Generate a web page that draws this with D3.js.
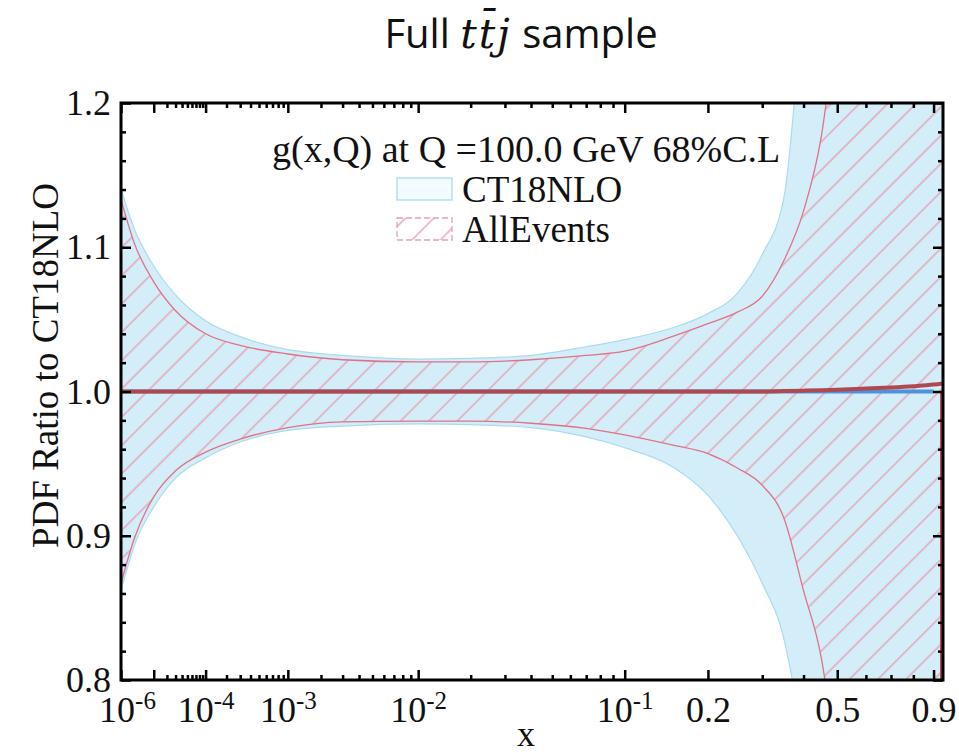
<!DOCTYPE html>
<html>
<head>
<meta charset="utf-8">
<script src="https://cdn.jsdelivr.net/npm/d3@7"></script>
<style>
    body { margin: 0; background: #fff; }
    svg text { font-family: "Liberation Serif", "Times New Roman", serif; fill: #111; }
</style>
</head>
<body>
<div id="container"></div>
<script>

// x grid of the gluon ratio curves
const xValues = [1e-6, 3e-6, 1e-5, 3e-5, 1e-4, 3e-4, 1e-3, 3e-3, 0.01, 0.02, 0.04, 0.07,
    0.1, 0.15, 0.2, 0.25, 0.3, 0.35, 0.4, 0.45, 0.5, 0.6, 0.7, 0.8, 0.9, 0.95];

// CT18NLO 68% C.L. band (ratio to its own central value)
const ct18Upper = [1.140, 1.112, 1.087, 1.067, 1.049, 1.038, 1.029, 1.025, 1.0225, 1.023, 1.025, 1.031,
    1.036, 1.044, 1.054, 1.068, 1.095, 1.135, 1.28, 1.45, 1.60, 1.9, 2.3, 2.8, 3.5, 4.0];
const ct18Lower = [0.862, 0.894, 0.920, 0.940, 0.954, 0.965, 0.973, 0.976, 0.9775, 0.977, 0.975, 0.9685,
    0.961, 0.948, 0.928, 0.900, 0.867, 0.828, 0.75, 0.64, 0.54, 0.38, 0.25, 0.15, 0.08, 0.05];
const ct18Central = [1, 1, 1, 1, 1, 1, 1, 1, 1, 1, 1, 1,
    1, 1, 1, 1, 1, 1, 1, 1, 1, 1, 1, 1, 1, null];

// AllEvents band
const allUpper = [1.133, 1.102, 1.076, 1.056, 1.040, 1.032, 1.026, 1.022, 1.0205, 1.0205, 1.022, 1.025,
    1.028, 1.038, 1.047, 1.055, 1.066, 1.091, 1.125, 1.176, 1.26, 1.4, 1.6, 1.8, 2.0, 2.2];
const allLower = [0.867, 0.899, 0.927, 0.945, 0.958, 0.967, 0.975, 0.979, 0.9795, 0.9795, 0.978, 0.9745,
    0.970, 0.963, 0.957, 0.947, 0.935, 0.912, 0.862, 0.816, 0.74, 0.6, 0.5, 0.4, 0.3, 0.2];
const allCentral = [1, 1, 1, 1, 1, 1, 1, 1, 1, 1, 1, 1,
    1, 1, 1, 1, 1, 1.0003, 1.0006, 1.0009, 1.0012, 1.002, 1.0028, 1.0037, 1.0048, 1.0056];

// axis ticks
const xMajorTicks = [1e-6, 1e-5, 1e-4, 1e-3, 1e-2, 0.1, 0.2, 0.5, 0.9];
const xMajorLabels = [['10', '-6'], null, ['10', '-4'], ['10', '-3'], ['10', '-2'], ['10', '-1'], ['0.2'], ['0.5'], ['0.9']];
const xMinorTicks = [2e-5, 3e-5, 4e-5, 5e-5, 6e-5, 7e-5, 8e-5, 9e-5,
    2e-4, 3e-4, 4e-4, 5e-4, 6e-4, 7e-4, 8e-4, 9e-4,
    2e-3, 3e-3, 4e-3, 5e-3, 6e-3, 7e-3, 8e-3, 9e-3,
    0.02, 0.03, 0.04, 0.05, 0.06, 0.07, 0.08, 0.09,
    0.3, 0.4, 0.6, 0.7, 0.8];
const yMajorTicks = [0.8, 0.9, 1.0, 1.1, 1.2];
const yMinorTicks = [0.82, 0.84, 0.86, 0.88, 0.92, 0.94, 0.96, 0.98, 1.02, 1.04, 1.06, 1.08, 1.12, 1.14, 1.16, 1.18];

const serif = '"Liberation Serif", "Times New Roman", serif';

window.addEventListener('DOMContentLoaded', (event) => {

    const width = 959;
    const height = 753;
    const left = 121, right = 943, top = 103, bottom = 680;

    const svg = d3.select('#container')
        .append('svg')
        .attr('width', width)
        .attr('height', height);

    const x = d3.scalePow()
        .exponent(0.2)
        .domain([1e-6, 0.95])
        .range([left, right]);

    const y = d3.scaleLinear()
        .domain([0.8, 1.2])
        .range([bottom, top]);

    const defs = svg.append('defs');

    defs.append('clipPath')
        .attr('id', 'plot-clip')
        .append('rect')
        .attr('x', left)
        .attr('y', top)
        .attr('width', right - left)
        .attr('height', bottom - top);

    const hatch = defs.append('pattern')
        .attr('id', 'hatch')
        .attr('patternUnits', 'userSpaceOnUse')
        .attr('width', 20)
        .attr('height', 20)
        .attr('patternTransform', 'rotate(45)');

    hatch.append('line')
        .attr('x1', 1).attr('y1', 0)
        .attr('x2', 1).attr('y2', 20)
        .attr('stroke', '#e6a0b2')
        .attr('stroke-width', 1.4);

    const rows = xValues.map((xv, i) => ({
        x: xv,
        ctUp: ct18Upper[i], ctLo: ct18Lower[i], ctMid: ct18Central[i],
        allUp: allUpper[i], allLo: allLower[i], allMid: allCentral[i]
    }));

    const plot = svg.append('g')
        .attr('clip-path', 'url(#plot-clip)');

    // CT18NLO band
    const ctArea = d3.area()
        .x(d => x(d.x))
        .y0(d => y(d.ctLo))
        .y1(d => y(d.ctUp))
        .curve(d3.curveMonotoneX);

    plot.append('path')
        .datum(rows)
        .attr('d', ctArea)
        .attr('fill', '#d4eef9')
        .attr('stroke', 'none');

    ['ctUp', 'ctLo'].forEach(key => {
        plot.append('path')
            .datum(rows)
            .attr('d', d3.line().x(d => x(d.x)).y(d => y(d[key])).curve(d3.curveMonotoneX))
            .attr('fill', 'none')
            .attr('stroke', '#a9dbf0')
            .attr('stroke-width', 1.2);
    });

    // AllEvents band (hatched)
    const allArea = d3.area()
        .x(d => x(d.x))
        .y0(d => y(d.allLo))
        .y1(d => y(d.allUp))
        .curve(d3.curveMonotoneX);

    plot.append('path')
        .datum(rows)
        .attr('d', allArea)
        .attr('fill', 'url(#hatch)')
        .attr('stroke', 'none');

    ['allUp', 'allLo'].forEach(key => {
        plot.append('path')
            .datum(rows)
            .attr('d', d3.line().x(d => x(d.x)).y(d => y(d[key])).curve(d3.curveMonotoneX))
            .attr('fill', 'none')
            .attr('stroke', '#df7288')
            .attr('stroke-width', 1.3);
    });

    const last = rows[rows.length - 1];
    plot.append('line')
        .attr('x1', x(last.x) - 1.5)
        .attr('x2', x(last.x) - 1.5)
        .attr('y1', y(1.0))
        .attr('y2', y(0.8))
        .attr('stroke', '#b9474f')
        .attr('stroke-width', 3);

    // central values
    plot.append('path')
        .datum(rows.filter(d => d.ctMid != null))
        .attr('d', d3.line().x(d => x(d.x)).y(d => y(d.ctMid)))
        .attr('fill', 'none')
        .attr('stroke', '#4f92dc')
        .attr('stroke-width', 4);

    plot.append('path')
        .datum(rows)
        .attr('d', d3.line().x(d => x(d.x)).y(d => y(d.allMid)).curve(d3.curveMonotoneX))
        .attr('fill', 'none')
        .attr('stroke', '#b0494f')
        .attr('stroke-width', 4);

    // Axes, ticks pointing inward on all four sides.

    const tickStyle = (g) => {
        g.select('.domain').remove();
        g.selectAll('.tick line').attr('stroke', '#000').attr('stroke-width', 2.5);
    };

    const xBottom = svg.append('g')
        .attr('transform', `translate(0,${bottom})`)
        .call(d3.axisBottom(x).tickValues(xMajorTicks).tickSizeInner(-10).tickSizeOuter(0).tickFormat(() => ''))
        .call(tickStyle);

    svg.append('g')
        .attr('transform', `translate(0,${bottom})`)
        .call(d3.axisBottom(x).tickValues(xMinorTicks).tickSizeInner(-5).tickSizeOuter(0).tickFormat(() => ''))
        .call(tickStyle);

    svg.append('g')
        .attr('transform', `translate(0,${top})`)
        .call(d3.axisTop(x).tickValues(xMajorTicks).tickSizeInner(-10).tickSizeOuter(0).tickFormat(() => ''))
        .call(tickStyle);

    svg.append('g')
        .attr('transform', `translate(0,${top})`)
        .call(d3.axisTop(x).tickValues(xMinorTicks).tickSizeInner(-5).tickSizeOuter(0).tickFormat(() => ''))
        .call(tickStyle);

    xBottom.selectAll('.tick text').remove();
    xBottom.selectAll('.tick').each(function (d, i) {
        const parts = xMajorLabels[i];
        if (!parts) return;
        const t = d3.select(this).append('text')
            .attr('x', i === 0 ? 6 : 0)
            .attr('y', 42)
            .attr('text-anchor', 'middle')
            .attr('font-family', serif)
            .attr('font-size', 36);
        t.append('tspan').text(parts[0]);
        if (parts[1]) {
            t.append('tspan')
                .attr('dy', -13)
                .attr('font-size', 25)
                .text(parts[1]);
        }
    });

    svg.append('g')
        .attr('transform', `translate(${left},0)`)
        .call(d3.axisLeft(y).tickValues(yMajorTicks).tickSizeInner(-10).tickSizeOuter(0).tickPadding(10).tickFormat(d3.format('.1f')))
        .call(tickStyle)
        .call(g => g.selectAll('.tick text')
            .attr('font-size', 36)
            .attr('font-family', serif)
            .attr('fill', '#111'));

    svg.append('g')
        .attr('transform', `translate(${left},0)`)
        .call(d3.axisLeft(y).tickValues(yMinorTicks).tickSizeInner(-5).tickSizeOuter(0).tickFormat(() => ''))
        .call(tickStyle);

    svg.append('g')
        .attr('transform', `translate(${right},0)`)
        .call(d3.axisRight(y).tickValues(yMajorTicks).tickSizeInner(-10).tickSizeOuter(0).tickFormat(() => ''))
        .call(tickStyle);

    svg.append('g')
        .attr('transform', `translate(${right},0)`)
        .call(d3.axisRight(y).tickValues(yMinorTicks).tickSizeInner(-5).tickSizeOuter(0).tickFormat(() => ''))
        .call(tickStyle);

    // frame
    svg.append('rect')
        .attr('x', left)
        .attr('y', top)
        .attr('width', right - left)
        .attr('height', bottom - top)
        .attr('fill', 'none')
        .attr('stroke', '#000')
        .attr('stroke-width', 3);

    // axis titles
    svg.append('text')
        .attr('x', (left + right) / 2 - 6)
        .attr('y', 746)
        .attr('text-anchor', 'middle')
        .attr('font-family', serif)
        .attr('font-size', 36)
        .text('x');

    svg.append('text')
        .attr('transform', `translate(58,${(top + bottom) / 2 - 26}) rotate(-90)`)
        .attr('text-anchor', 'middle')
        .attr('font-family', serif)
        .attr('font-size', 37)
        .text('PDF Ratio to CT18NLO');

    // title
    const title = svg.append('text')
        .attr('x', 521)
        .attr('y', 48)
        .attr('text-anchor', 'middle')
        .style('font-family', '"Open Sans", "Noto Sans", sans-serif')
        .attr('font-size', 40);
    title.append('tspan').text('Full ');
    title.append('tspan')
        .style('font-family', '"DejaVu Serif", serif')
        .style('font-style', 'italic')
        .attr('font-size', 41)
        .attr('letter-spacing', 2)
        .text('t\u0074\u0304j');
    title.append('tspan').text(' sample');

    // legend
    svg.append('text')
        .attr('x', 272)
        .attr('y', 162)
        .attr('font-family', serif)
        .attr('font-size', 38)
        .text('g(x,Q) at Q =100.0 GeV 68%C.L');

    svg.append('rect')
        .attr('x', 397).attr('y', 178)
        .attr('width', 55).attr('height', 22)
        .attr('fill', '#f3fbfe')
        .attr('stroke', '#a9dbf0')
        .attr('stroke-width', 1.3);

    svg.append('rect')
        .attr('x', 397).attr('y', 218)
        .attr('width', 55).attr('height', 22)
        .attr('fill', 'url(#hatch)')
        .attr('stroke', '#e6a0b2')
        .attr('stroke-dasharray', '6,3')
        .attr('stroke-width', 1.3);

    svg.append('text')
        .attr('x', 462).attr('y', 202)
        .attr('font-family', serif)
        .attr('font-size', 37)
        .text('CT18NLO');

    svg.append('text')
        .attr('x', 462).attr('y', 242)
        .attr('font-family', serif)
        .attr('font-size', 37)
        .text('AllEvents');

}); // end of document ready
</script>
</body>
</html>
